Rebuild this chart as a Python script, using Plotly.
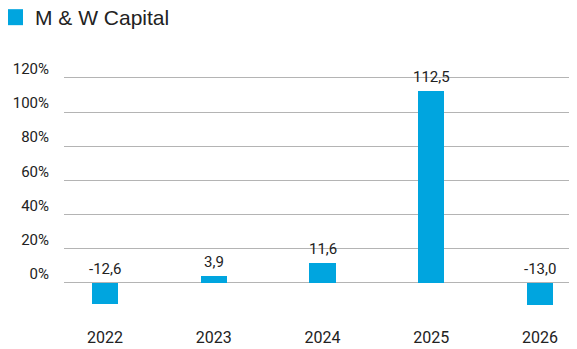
import plotly.graph_objects as go

years = ["2022", "2023", "2024", "2025", "2026"]
values = [-12.6, 3.9, 11.6, 112.5, -13.0]
labels = ["-12,6", "3,9", "11,6", "112,5", "-13,0"]
y_ticks = [0, 20, 40, 60, 80, 100, 120]
y_tick_text = ["0%", "20%", "40%", "60%", "80%", "100%", "120%"]
series_name = "M & W Capital"

BAR = "#00A5DF"
TXT = "#222222"
xpos = list(range(len(years)))

fig = go.Figure()
fig.add_trace(go.Bar(x=xpos, y=values, width=0.24, marker_color=BAR,
                     marker_line_width=0, showlegend=False, name=series_name))
fig.add_trace(go.Scatter(x=[None], y=[None], mode="markers", name=series_name,
                         marker=dict(symbol="square", size=16, color=BAR)))

for xi, v, t in zip(xpos, values, labels):
    fig.add_annotation(x=xi, y=max(v, 0), text=t, showarrow=False,
                       yanchor="bottom", yshift=3,
                       font=dict(family="Roboto", size=15, color=TXT))

fig.update_layout(
    width=569, height=341,
    margin=dict(l=56, r=0, t=52, b=33, autoexpand=False),
    paper_bgcolor="white", plot_bgcolor="white",
    bargap=0,
    showlegend=True,
    legend=dict(x=-0.1345, y=1.246,
                xanchor="left", yanchor="top", itemsizing="trace",
                font=dict(family="Liberation Sans", size=21, color=TXT),
                bgcolor="rgba(0,0,0,0)"),
    xaxis=dict(range=[-0.377, 4.34], tickmode="array", tickvals=xpos,
               ticktext=years, showgrid=False, zeroline=False, showline=False,
               ticks="", ticklabelstandoff=10, automargin=False,
               tickfont=dict(family="Roboto", size=16, color=TXT)),
    yaxis=dict(range=[-19.5, 130.5], tickmode="array", tickvals=y_ticks,
               ticktext=y_tick_text, showgrid=True, gridcolor="#B4B4B4",
               gridwidth=1.3, zeroline=False, showline=False, ticks="",
               ticklabelstandoff=14, ticklabelshift=-9, automargin=False,
               tickfont=dict(family="Roboto", size=15, color=TXT)),
)

fig.write_html("out.html")
